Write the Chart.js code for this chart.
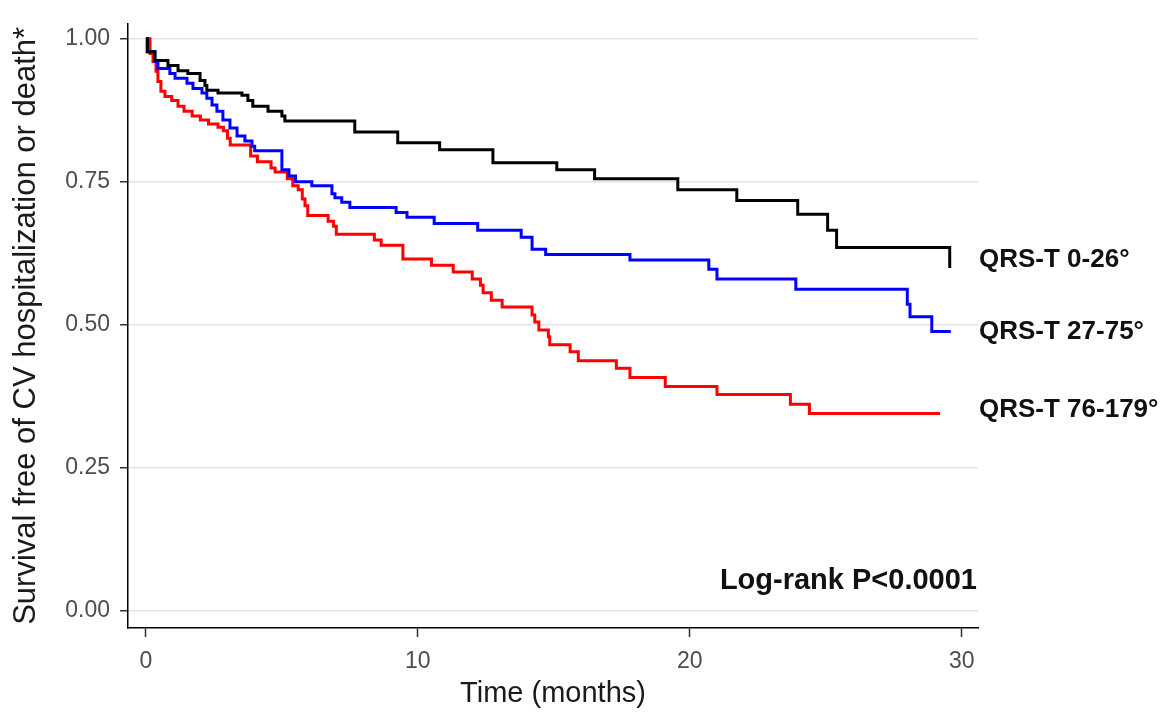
<!DOCTYPE html>
<html>
<head>
<meta charset="utf-8">
<script src="https://cdn.jsdelivr.net/npm/chart.js@4"></script>
<style>
  html, body { margin: 0; padding: 0; background: #fff; }
  #wrap { width: 1174px; height: 719px; position: relative; }
</style>
</head>
<body>
<div id="wrap"><canvas id="km"></canvas></div>
<script>
// Kaplan-Meier step points (time in months, survival)
const lowTime = [0, 0.05, 0.33, 0.81, 1.18, 1.54, 1.99, 2.17, 2.24, 2.65, 3.53, 3.75, 3.93, 4.49, 5.0, 5.11, 7.68, 9.26, 10.8, 12.76, 15.11, 16.5, 19.56, 21.73, 23.97, 25.07, 25.4, 29.56];
const lowSurv = [1.0, 0.977, 0.962, 0.953, 0.944, 0.939, 0.927, 0.918, 0.910, 0.905, 0.901, 0.892, 0.882, 0.873, 0.865, 0.856, 0.837, 0.818, 0.806, 0.783, 0.771, 0.755, 0.736, 0.717, 0.693, 0.665, 0.635, 0.599];

const midTime = [0, 0.05, 0.33, 0.44, 0.88, 1.07, 1.51, 1.73, 2.06, 2.24, 2.43, 2.61, 2.83, 3.09, 3.35, 3.64, 3.9, 4.0, 5.0, 5.26, 5.5, 6.1, 6.84, 6.95, 7.2, 7.5, 9.2, 9.6, 10.6, 12.2, 13.8, 14.2, 14.7, 17.8, 20.7, 21.0, 23.9, 28.0, 28.1, 28.9, 29.6];
const midSurv = [1.0, 0.977, 0.960, 0.948, 0.939, 0.931, 0.922, 0.913, 0.905, 0.896, 0.884, 0.873, 0.858, 0.844, 0.830, 0.821, 0.812, 0.804, 0.771, 0.760, 0.750, 0.743, 0.729, 0.722, 0.714, 0.705, 0.696, 0.688, 0.677, 0.665, 0.653, 0.632, 0.623, 0.613, 0.597, 0.580, 0.562, 0.536, 0.514, 0.488, 0.488];

const highTime = [0, 0.15, 0.26, 0.37, 0.44, 0.55, 0.7, 0.95, 1.18, 1.4, 1.7, 2.0, 2.3, 2.65, 2.85, 3.0, 3.1, 3.85, 4.1, 4.6, 4.75, 5.2, 5.4, 5.6, 5.75, 5.85, 5.95, 6.7, 6.9, 7.0, 8.4, 8.65, 9.45, 10.5, 11.3, 12.0, 12.3, 12.4, 12.7, 13.1, 14.2, 14.3, 14.45, 14.8, 14.85, 15.6, 15.9, 17.3, 17.8, 19.1, 21.0, 23.7, 24.4, 29.2];
const highSurv = [1.0, 0.974, 0.960, 0.943, 0.925, 0.908, 0.899, 0.892, 0.882, 0.873, 0.865, 0.858, 0.851, 0.845, 0.839, 0.826, 0.814, 0.795, 0.785, 0.774, 0.767, 0.755, 0.743, 0.736, 0.720, 0.708, 0.691, 0.681, 0.672, 0.658, 0.648, 0.639, 0.615, 0.604, 0.592, 0.580, 0.569, 0.556, 0.543, 0.531, 0.517, 0.505, 0.491, 0.479, 0.465, 0.453, 0.437, 0.424, 0.408, 0.392, 0.378, 0.361, 0.345, 0.345];

const groupNames = ["QRS-T 0-26°", "QRS-T 27-75°", "QRS-T 76-179°"];
const labelY = [0.613, 0.488, 0.352];
const xTicks = [0, 10, 20, 30];
const yTicks = [0, 0.25, 0.5, 0.75, 1.0];
const pText = "Log-rank P<0.0001";
const pY = 0.052;

const FONT = "'Liberation Sans', Arial, Helvetica, sans-serif";

const toPts = (t, s) => t.map((x, i) => ({ x, y: s[i] }));

const endLabels = {
  id: "endLabels",
  afterDatasetsDraw(chart) {
    const { ctx, chartArea, scales } = chart;
    ctx.save();
    ctx.fillStyle = "#111";
    ctx.font = `bold 26px ${FONT}`;
    ctx.textBaseline = "middle";
    ctx.textAlign = "left";
    groupNames.forEach((name, i) => {
      ctx.fillText(name, chartArea.right + 1, scales.y.getPixelForValue(labelY[i]));
    });
    ctx.font = `bold 29px ${FONT}`;
    ctx.textAlign = "right";
    ctx.fillText(pText, chartArea.right - 1, scales.y.getPixelForValue(pY));
    ctx.restore();
  },
};

const line = (data, color) => ({
  data,
  borderColor: color,
  borderWidth: 3,
  stepped: "before",
  pointRadius: 0,
  fill: false,
});

new Chart(document.getElementById("km"), {
  type: "line",
  data: {
    datasets: [
      line(toPts(lowTime, lowSurv), "#000000"),
      line(toPts(midTime, midSurv), "#0000ff"),
      line(toPts(highTime, highSurv), "#ff0000"),
    ],
  },
  options: {
    responsive: true,
    maintainAspectRatio: false,
    animation: false,
    layout: { padding: { left: 0, right: 196, top: 20, bottom: 0 } },
    plugins: { legend: { display: false }, tooltip: { enabled: false } },
    scales: {
      x: {
        type: "linear",
        min: -0.66,
        max: 30.6,
        afterBuildTicks: (s) => { s.ticks = xTicks.map((v) => ({ value: v })); },
        afterFit: (s) => { s.height = 91; },
        grid: { drawOnChartArea: false, tickLength: 9, tickColor: "#333", tickWidth: 1.5 },
        border: { color: "#000", width: 1.5 },
        ticks: { color: "#4d4d4d", font: { family: FONT, size: 23 }, padding: 11, maxRotation: 0 },
        title: { display: true, text: "Time (months)", color: "#1a1a1a", font: { family: FONT, size: 29 }, padding: { top: 0, bottom: 8 } },
      },
      y: {
        min: -0.03,
        max: 1.026,
        afterBuildTicks: (s) => { s.ticks = yTicks.map((v) => ({ value: v })); },
        afterFit: (s) => { s.width = 128; },
        grid: { color: "#e4e4e4", lineWidth: 1.5, tickLength: 8, tickColor: "#333", tickWidth: 1.5 },
        border: { color: "#000", width: 1.5 },
        ticks: { color: "#4d4d4d", font: { family: FONT, size: 23 }, padding: 10, callback: (v) => v.toFixed(2) },
        title: { display: true, text: "Survival free of CV hospitalization or death*", color: "#1a1a1a", font: { family: FONT, size: 31 }, padding: { top: 8, bottom: 0 } },
      },
    },
  },
  plugins: [endLabels],
});
</script>
</body>
</html>
